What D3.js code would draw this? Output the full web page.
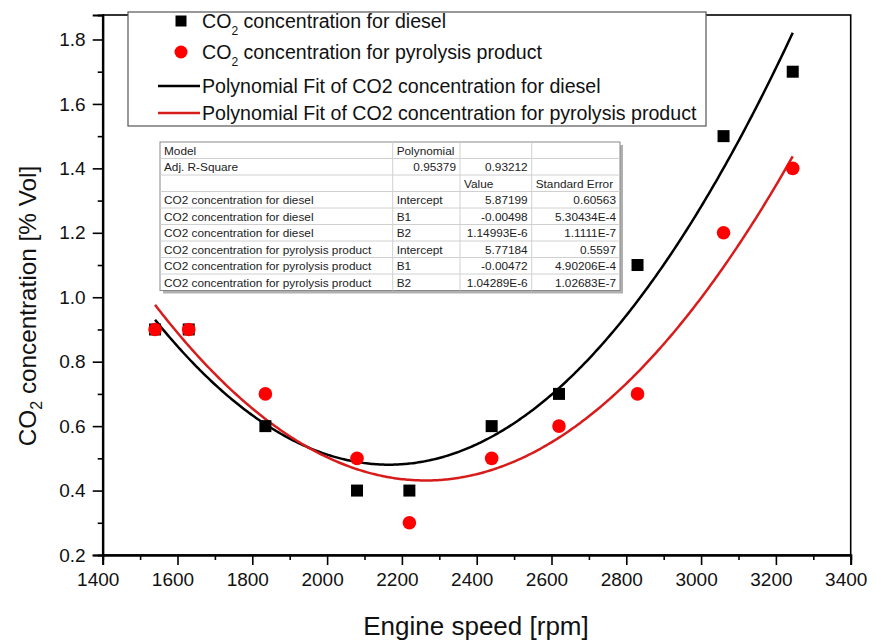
<!DOCTYPE html>
<html><head><meta charset="utf-8">
<script src="https://cdn.jsdelivr.net/npm/d3@7"></script>
<style>
body{margin:0;background:#fff}
svg{display:block}
text{font-family:"Liberation Sans",Arial,Helvetica,sans-serif}
</style>
</head><body>
<svg id="chart" width="877" height="642"></svg>
<script>
// ---------- data ----------
const speeds = [1540, 1630, 1835, 2080, 2220, 2440, 2620, 2830, 3060, 3245];
const dieselCO2 = [0.9, 0.9, 0.6, 0.4, 0.4, 0.6, 0.7, 1.1, 1.5, 1.7];
const pyrolysisCO2 = [0.9, 0.9, 0.7, 0.5, 0.3, 0.5, 0.6, 0.7, 1.2, 1.4];
const xTicks = [1400, 1600, 1800, 2000, 2200, 2400, 2600, 2800, 3000, 3200, 3400];
const xMinorTicks = [1500, 1700, 1900, 2100, 2300, 2500, 2700, 2900, 3100, 3300];
const yTicks = [0.2, 0.4, 0.6, 0.8, 1.0, 1.2, 1.4, 1.6, 1.8];
const yMinorTicks = [0.3, 0.5, 0.7, 0.9, 1.1, 1.3, 1.5, 1.7];
const legendLabels = [
  "concentration for diesel",
  "concentration for pyrolysis product",
  "Polynomial Fit of CO2 concentration for diesel",
  "Polynomial Fit of CO2 concentration for pyrolysis product"
];
const tableHeader = [
  ["Model", "Polynomial", "", ""],
  ["Adj. R-Square", "0.95379", "0.93212", ""],
  ["", "", "Value", "Standard Error"]
];
const tableBody = [
  ["CO2 concentration for diesel", "Intercept", "5.87199", "0.60563"],
  ["CO2 concentration for diesel", "B1", "-0.00498", "5.30434E-4"],
  ["CO2 concentration for diesel", "B2", "1.14993E-6", "1.1111E-7"],
  ["CO2 concentration for pyrolysis product", "Intercept", "5.77184", "0.5597"],
  ["CO2 concentration for pyrolysis product", "B1", "-0.00472", "4.90206E-4"],
  ["CO2 concentration for pyrolysis product", "B2", "1.04289E-6", "1.02683E-7"]
];
const colors = {diesel: "#000000", pyroPoint: "#ff0000", pyroLine: "#d81c1c"};

// ---------- setup ----------
const svg = d3.select("#chart");
const L = 102.7, R = 850.7, T = 15, B = 555;
const x = d3.scaleLinear().domain([1400, 3400]).range([L, R]);
const y = d3.scaleLinear().domain([0.2, 1.876]).range([B, T]);

// frame
svg.append("rect").attr("x", L).attr("y", T).attr("width", R - L).attr("height", B - T)
  .attr("fill", "none").attr("stroke", "#000").attr("stroke-width", 1.6);

// axes
const xAxis = svg.append("g").attr("transform", `translate(0,${B})`)
  .call(d3.axisBottom(x).tickValues(xTicks).tickSize(10).tickPadding(8).tickFormat(d3.format("d")));
const xMinor = svg.append("g").attr("transform", `translate(0,${B})`)
  .call(d3.axisBottom(x).tickValues(xMinorTicks).tickSize(5).tickFormat(""));
const yAxis = svg.append("g").attr("transform", `translate(${L},0)`)
  .call(d3.axisLeft(y).tickValues(yTicks).tickSize(10).tickPadding(7).tickFormat(d3.format(".1f")));
const yMinor = svg.append("g").attr("transform", `translate(${L},0)`)
  .call(d3.axisLeft(y).tickValues(yMinorTicks).tickSize(5).tickFormat(""));
[xAxis, xMinor, yAxis, yMinor].forEach(g => {
  g.select(".domain").attr("stroke-width", 2);
  g.selectAll(".tick line").attr("stroke-width", 1.6);
  g.selectAll("text").attr("font-size", 19).attr("font-family", '"Liberation Sans",Arial,sans-serif').attr("fill", "#111");
});
xAxis.selectAll("text").attr("dx", -5);

// axis titles
svg.append("text").attr("x", 476).attr("y", 635).attr("text-anchor", "middle")
  .attr("font-size", 26).attr("fill", "#111").text("Engine speed [rpm]");
const ytg = svg.append("g").attr("transform", `translate(36,306) rotate(-90)`);
const yt = ytg.append("text").attr("x", 0).attr("y", 0).attr("font-size", 24.3).attr("fill", "#111");
yt.append("tspan").text("CO");
yt.append("tspan").attr("font-size", 16).attr("dy", 6).text("2");
yt.append("tspan").attr("dy", -6).text(" concentration [% Vol]");
const ytw = yt.node().getComputedTextLength();
yt.attr("x", -ytw / 2);

// fit curves (coefficients from the results table)
const dieselCoef = tableBody.slice(0, 3).map(r => +r[2]);
const pyroCoef = tableBody.slice(3, 6).map(r => +r[2]);
const xs = d3.range(d3.min(speeds), d3.max(speeds) + 1, 5);
const poly = c => v => c[0] + c[1] * v + c[2] * v * v;
const line = d3.line().x(d => x(d[0])).y(d => y(d[1]));
svg.append("path").attr("d", line(xs.map(v => [v, poly(dieselCoef)(v)])))
  .attr("fill", "none").attr("stroke", colors.diesel).attr("stroke-width", 2.5);
svg.append("path").attr("d", line(xs.map(v => [v, poly(pyroCoef)(v)])))
  .attr("fill", "none").attr("stroke", colors.pyroLine).attr("stroke-width", 2.5);

// points
const sq = 12;
svg.append("g").selectAll("rect").data(speeds).join("rect")
  .attr("x", (d) => x(d) - sq / 2).attr("y", (d, i) => y(dieselCO2[i]) - sq / 2)
  .attr("width", sq).attr("height", sq).attr("fill", colors.diesel);
svg.append("g").selectAll("circle").data(speeds).join("circle")
  .attr("cx", d => x(d)).attr("cy", (d, i) => y(pyrolysisCO2[i])).attr("r", 6.8)
  .attr("fill", colors.pyroPoint);

// legend
const lg = svg.append("g");
lg.append("rect").attr("x", 128).attr("y", 12).attr("width", 578).attr("height", 114)
  .attr("fill", "#fff").attr("stroke", "#555").attr("stroke-width", 1.2);
const rowsY = [21, 52, 86, 113];
lg.append("rect").attr("x", 181 - 5.5).attr("y", rowsY[0] - 5.5).attr("width", 11).attr("height", 11).attr("fill", colors.diesel);
lg.append("circle").attr("cx", 181).attr("cy", rowsY[1]).attr("r", 6.5).attr("fill", colors.pyroPoint);
lg.append("line").attr("x1", 158).attr("x2", 200).attr("y1", rowsY[2]).attr("y2", rowsY[2]).attr("stroke", colors.diesel).attr("stroke-width", 2.5);
lg.append("line").attr("x1", 158).attr("x2", 200).attr("y1", rowsY[3]).attr("y2", rowsY[3]).attr("stroke", colors.pyroLine).attr("stroke-width", 2.5);
legendLabels.forEach((t, i) => {
  const tx = lg.append("text").attr("x", 202).attr("y", rowsY[i] + 7).attr("font-size", 19.6).attr("fill", "#111");
  if (i < 2) {
    tx.append("tspan").text("CO");
    tx.append("tspan").attr("font-size", 12).attr("dy", 7).text("2");
    tx.append("tspan").attr("dy", -7).text(" " + t);
  } else tx.text(t);
});

// table
const tb = svg.append("g");
const colX = [160, 392.7, 460, 531.7, 620];
const tTop = 142, rh = 16.5;
const allRows = tableHeader.concat(tableBody);
const tH = rh * allRows.length;
tb.append("rect").attr("x", colX[0] + 3).attr("y", tTop + 3).attr("width", colX[4] - colX[0]).attr("height", tH)
  .attr("fill", "#b0b0b0");
tb.append("rect").attr("x", colX[0]).attr("y", tTop).attr("width", colX[4] - colX[0]).attr("height", tH)
  .attr("fill", "#fff").attr("stroke", "#888").attr("stroke-width", 1);
for (let i = 1; i < allRows.length; i++) {
  tb.append("line").attr("x1", colX[0]).attr("x2", colX[4]).attr("y1", tTop + i * rh).attr("y2", tTop + i * rh)
    .attr("stroke", "#d0d0d0").attr("stroke-width", 1);
}
for (let j = 1; j < 4; j++) {
  tb.append("line").attr("x1", colX[j]).attr("x2", colX[j]).attr("y1", tTop).attr("y2", tTop + tH)
    .attr("stroke", "#d0d0d0").attr("stroke-width", 1);
}
allRows.forEach((row, i) => {
  row.forEach((cell, j) => {
    if (!cell) return;
    const numeric = !isNaN(+cell);
    tb.append("text").attr("x", numeric ? colX[j + 1] - 4 : colX[j] + 4).attr("y", tTop + i * rh + 12.5)
      .attr("text-anchor", numeric ? "end" : "start").attr("font-size", 11.8).attr("fill", "#222").text(cell);
  });
});
</script>
</body></html>
